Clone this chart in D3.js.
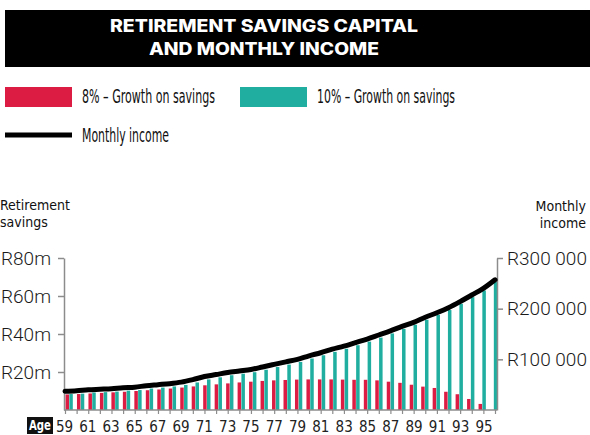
<!DOCTYPE html>
<html>
<head>
<meta charset="utf-8">
<script src="https://cdn.jsdelivr.net/npm/d3@7"></script>
<style>
  body { margin: 0; background: #fff; }
  svg { display: block; }
  .cond { font-family: "Liberation Sans Narrow", "DejaVu Sans Condensed", "Roboto Condensed", sans-serif; font-stretch: condensed; }
</style>
</head>
<body>
<div id="chart"></div>
<script>
// Ages on the x axis
const ages = [59, 60, 61, 62, 63, 64, 65, 66, 67, 68, 69, 70, 71, 72, 73, 74, 75, 76, 77,
              78, 79, 80, 81, 82, 83, 84, 85, 86, 87, 88, 89, 90, 91, 92, 93, 94, 95, 96];
const ageLabels = [59, 61, 63, 65, 67, 69, 71, 73, 75, 77, 79, 81, 83, 85, 87, 89, 91, 93, 95];

// Retirement savings capital (R millions)
const growth8 = [8.2, 8.4, 8.7, 9.0, 9.3, 9.6, 10.0, 10.4, 10.8, 11.3, 11.8, 12.4, 13.0, 13.5,
                 14.0, 14.5, 14.9, 15.3, 15.6, 15.8, 16.0, 16.1, 16.1, 16.1, 16.0, 15.9, 15.9,
                 15.6, 14.9, 14.3, 13.3, 12.3, 11.6, 9.6, 8.3, 5.8, 3.2, 0];
const growth10 = [8.4, 8.6, 9.2, 9.4, 9.7, 10.2, 10.5, 11.3, 11.8, 12.4, 13.2, 14.5, 16.1, 17.2,
                  18.3, 19.1, 19.9, 21.2, 22.6, 23.9, 25.3, 27.1, 28.8, 30.6, 32.2, 34.1, 36.0,
                  38.1, 40.3, 42.7, 44.9, 47.5, 50.0, 52.6, 55.9, 59.4, 62.9, 67.4];

// Monthly income (R)
const monthlyIncome = [37000, 38000, 40000, 41000, 42000, 44000, 45000, 48000, 50000, 52000,
                       55000, 60000, 66000, 70000, 74000, 77000, 80000, 85000, 90000, 95000,
                       100000, 107000, 113000, 120000, 126000, 133000, 140000, 148000, 156000,
                       165000, 173000, 183000, 192000, 202000, 214000, 227000, 240000, 257000];

const savingsTicks = [20, 40, 60, 80];
const incomeTicks = [100000, 200000, 300000];

const red = '#dc1c42';
const teal = '#1fae9f';
const axisGrey = '#8c8c8c';

const svg = d3.select('#chart').append('svg')
    .attr('width', 590)
    .attr('height', 435);

// Title block
svg.append('rect')
    .attr('x', 5).attr('y', 10)
    .attr('width', 600).attr('height', 57)
    .attr('fill', '#000');

const titleLines = ['RETIREMENT SAVINGS CAPITAL', 'AND MONTHLY INCOME'];
const titleWidths = [308, 230];
titleLines.forEach((t, i) => {
    svg.append('text')
        .attr('x', 264)
        .attr('y', 32 + i * 23)
        .attr('text-anchor', 'middle')
        .attr('textLength', titleWidths[i])
        .attr('lengthAdjust', 'spacingAndGlyphs')
        .style('font-family', 'Inter, "Open Sans", sans-serif')
        .style('font-weight', 800)
        .style('font-size', '17px')
        .attr('fill', '#fff')
        .text(t);
});

// Legend
const legendItems = [
    {label: '8% – Growth on savings', color: red, x: 5, y: 87, w: 133},
    {label: '10% – Growth on savings', color: teal, x: 240, y: 87, w: 138}
];
legendItems.forEach(d => {
    svg.append('rect')
        .attr('x', d.x).attr('y', d.y)
        .attr('width', 67).attr('height', 20)
        .attr('fill', d.color);
    svg.append('text')
        .attr('class', 'cond')
        .attr('x', d.x + 77)
        .attr('y', d.y + 16)
        .attr('textLength', d.w)
        .attr('lengthAdjust', 'spacingAndGlyphs')
        .style('font-size', '19px')
        .attr('fill', '#111')
        .text(d.label);
});

svg.append('line')
    .attr('x1', 5).attr('x2', 72)
    .attr('y1', 135).attr('y2', 135)
    .attr('stroke', '#000')
    .attr('stroke-width', 5);

svg.append('text')
    .attr('class', 'cond')
    .attr('x', 82).attr('y', 142)
    .attr('textLength', 87)
    .attr('lengthAdjust', 'spacingAndGlyphs')
    .style('font-size', '19px')
    .attr('fill', '#111')
    .text('Monthly income');

// Axis titles
[['Retirement', 210], ['savings', 227]].forEach(([t, y]) => {
    svg.append('text')
        .attr('class', 'cond')
        .attr('x', 0).attr('y', y)
        .style('font-size', '14px')
        .attr('fill', '#111')
        .text(t);
});
[['Monthly', 211], ['income', 228]].forEach(([t, y]) => {
    svg.append('text')
        .attr('class', 'cond')
        .attr('x', 586).attr('y', y)
        .attr('text-anchor', 'end')
        .style('font-size', '14px')
        .attr('fill', '#111')
        .text(t);
});

// Scales
const xBar = d3.scaleBand().domain(ages).range([65, 501]).padding(0);
const xLine = d3.scalePoint().domain(ages).range([65, 495]);
const xLabel = d3.scalePoint().domain(ageLabels).range([64.5, 484]);
const ySavings = d3.scaleLinear().domain([0, 80]).range([410, 258]);
const yIncome = d3.scaleLinear().domain([0, 300000]).range([410, 258]);

const series = ages.map((a, i) => ({age: a, g8: growth8[i], g10: growth10[i], income: monthlyIncome[i]}));

// Bars
svg.append('g').selectAll('rect')
    .data(series)
    .join('rect')
    .attr('x', d => xBar(d.age) + 0.5)
    .attr('y', d => ySavings(d.g8))
    .attr('width', 3.5)
    .attr('height', d => ySavings(0) - ySavings(d.g8))
    .attr('fill', red);

svg.append('g').selectAll('rect')
    .data(series)
    .join('rect')
    .attr('x', d => xBar(d.age) + 4.3)
    .attr('y', d => ySavings(d.g10))
    .attr('width', 3.5)
    .attr('height', d => ySavings(0) - ySavings(d.g10))
    .attr('fill', teal);

// Axes
const leftAxis = svg.append('g')
    .attr('transform', 'translate(64,0)')
    .call(d3.axisLeft(ySavings)
        .tickValues(savingsTicks)
        .tickSize(6)
        .tickSizeOuter(0)
        .tickPadding(7)
        .tickFormat(d => `R${d}m`));

const rightAxis = svg.append('g')
    .attr('transform', 'translate(497,0)')
    .call(d3.axisRight(yIncome)
        .tickValues(incomeTicks)
        .tickSize(6)
        .tickSizeOuter(0)
        .tickPadding(4)
        .tickFormat(d => 'R' + d3.format(',')(d).replace(/,/g, ' ')));

[leftAxis, rightAxis].forEach(ax => {
    ax.select('.domain').attr('stroke', axisGrey).attr('stroke-width', 1.5);
    ax.selectAll('.tick line').attr('stroke', axisGrey).attr('stroke-width', 1.5);
    ax.selectAll('.tick text')
        .style('font-family', 'Roboto, sans-serif')
        .style('font-weight', 300)
        .style('font-size', '19px')
        .attr('fill', '#1a1a1a');
});

const bottomAxis = svg.append('g')
    .attr('transform', 'translate(0,410)')
    .call(d3.axisBottom(xLine).tickSize(4).tickSizeOuter(0).tickFormat(''));
bottomAxis.select('.domain').remove();
bottomAxis.selectAll('.tick line').attr('stroke', axisGrey).attr('stroke-width', 1.2);

svg.append('line')
    .attr('x1', 64).attr('x2', 497)
    .attr('y1', 410).attr('y2', 410)
    .attr('stroke', axisGrey)
    .attr('stroke-width', 1.5);

// Age labels
svg.append('g').selectAll('text')
    .data(ageLabels)
    .join('text')
    .attr('class', 'cond')
    .attr('x', d => xLabel(d))
    .attr('y', 432)
    .attr('text-anchor', 'middle')
    .style('font-size', '15px')
    .attr('fill', '#222')
    .text(d => d);

svg.append('rect')
    .attr('x', 27).attr('y', 417)
    .attr('width', 26).attr('height', 17)
    .attr('fill', '#111');
svg.append('text')
    .attr('class', 'cond')
    .attr('x', 40).attr('y', 430)
    .attr('text-anchor', 'middle')
    .attr('textLength', 22)
    .attr('lengthAdjust', 'spacingAndGlyphs')
    .style('font-size', '14px')
    .style('font-weight', 'bold')
    .attr('fill', '#fff')
    .text('Age');

// Monthly income line
svg.append('path')
    .datum(series)
    .attr('fill', 'none')
    .attr('stroke', '#000')
    .attr('stroke-width', 5)
    .attr('stroke-linecap', 'round')
    .attr('d', d3.line()
        .x(d => xLine(d.age))
        .y(d => yIncome(d.income))
        .curve(d3.curveMonotoneX));
</script>
</body>
</html>
